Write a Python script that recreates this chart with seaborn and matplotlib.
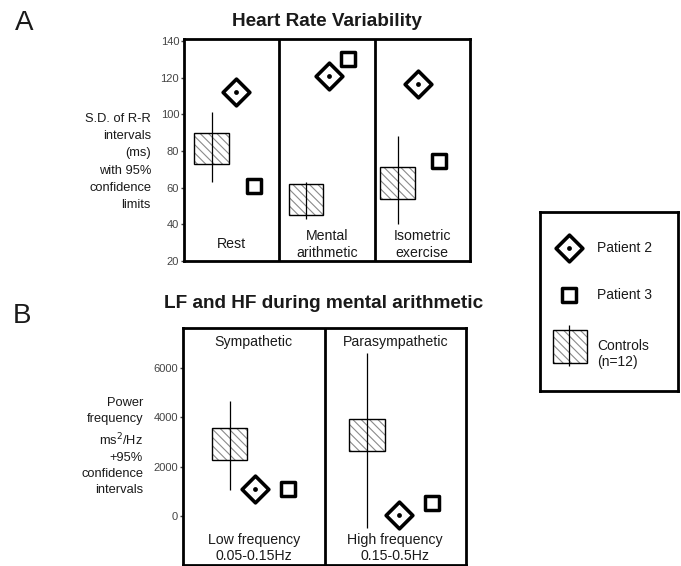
import numpy as np
import pandas as pd

import matplotlib
matplotlib.use("Agg")
import matplotlib.pyplot as plt
import matplotlib.transforms as mtransforms
import seaborn as sns

#####################################
### DATA
#####################################
# panel A - heart rate variability (S.D. of R-R intervals, ms)
hrv_conditions = ["Rest", "Mental\narithmetic", "Isometric\nexercise"]
hrv_ctrl_low = [73, 45, 54]
hrv_ctrl_high = [90, 62, 71]
hrv_ci_low = [63, 43, 40]
hrv_ci_high = [101, 63, 88]
hrv_patient2 = [112, 121, 116.5]
hrv_patient3 = [61, 130, 74.5]
hrv_ticks = [20, 40, 60, 80, 100, 120, 140]

# panel B - LF and HF power during mental arithmetic (ms2/Hz)
lfhf_bands = ["Sympathetic", "Parasympathetic"]
lfhf_freqs = ["Low frequency\n0.05-0.15Hz", "High frequency\n0.15-0.5Hz"]
lfhf_ctrl_low = [2270, 2635]
lfhf_ctrl_high = [3570, 3930]
lfhf_ci_low = [1050, -490]
lfhf_ci_high = [4660, 6600]
lfhf_patient2 = [1100, 40]
lfhf_patient3 = [1100, 530]
lfhf_ticks = [0, 2000, 4000, 6000]

legend_labels = ["Patient 2", "Patient 3", "Controls\n(n=12)"]

#####################################
### STYLE
#####################################
sns.set_style("white")
plt.rcParams["font.family"] = ["Liberation Sans", "DejaVu Sans"]
plt.rcParams["hatch.color"] = "#8a8a8a"
plt.rcParams["hatch.linewidth"] = 0.8

TXT = "#1a1a1a"
TICK = "#444444"
SPINE_LW = 2.0
HATCH = "\\\\\\\\"
D_SIZE, D_LW = 185, 2.6
S_SIZE, S_LW = 105, 2.5
DOT_SIZE = 12
LAB_FS = 10.2


def draw_panel(ax, ctrl_low, ctrl_high, ci_low, ci_high, p2, p3, offsets, box_w):
    n = len(ctrl_low)
    idx = np.arange(n)
    ctrl_x = idx + np.array([o[0] for o in offsets])
    p2_x = idx + np.array([o[1] for o in offsets])
    p3_x = idx + np.array([o[2] for o in offsets])
    lo = np.array(ctrl_low)
    hi = np.array(ctrl_high)

    # controls: hatched box + 95% CI line
    ax.bar(ctrl_x, hi - lo, bottom=lo, width=box_w, color="white",
           edgecolor="#8a8a8a", linewidth=0, hatch=HATCH, zorder=2)
    ax.bar(ctrl_x, hi - lo, bottom=lo, width=box_w, fill=False,
           edgecolor="black", linewidth=1.0, zorder=3)
    ax.vlines(ctrl_x, ci_low, ci_high, color="black", linewidth=0.9, zorder=4)

    pts = pd.DataFrame({"x": np.concatenate([p2_x, p3_x]),
                        "y": np.concatenate([p2, p3]),
                        "who": ["Patient 2"] * n + ["Patient 3"] * n})
    d2 = pts[pts["who"] == "Patient 2"]
    d3 = pts[pts["who"] == "Patient 3"]
    sns.scatterplot(data=d2, x="x", y="y", marker="D", s=D_SIZE, color="white",
                    edgecolor="black", linewidth=D_LW, ax=ax, zorder=5, legend=False)
    sns.scatterplot(data=d2, x="x", y="y", marker="o", s=DOT_SIZE, color="black",
                    edgecolor="black", linewidth=0, ax=ax, zorder=6, legend=False)
    sns.scatterplot(data=d3, x="x", y="y", marker="s", s=S_SIZE, color="white",
                    edgecolor="black", linewidth=S_LW, ax=ax, zorder=5, legend=False)

    for i in range(1, n):
        ax.axvline(i, color="black", linewidth=SPINE_LW, zorder=1)
    ax.set_xlim(0, n)
    ax.set_xticks([])
    ax.set_xlabel("")
    ax.set_ylabel("")
    for sp in ax.spines.values():
        sp.set_visible(True)
        sp.set_linewidth(SPINE_LW)
        sp.set_color("black")
    ax.tick_params(axis="y", left=True, length=2.5, width=1, pad=1,
                   labelsize=8, labelcolor=TICK, color=TICK)


#####################################
### PLOT BUILD
#####################################
fig = plt.figure(figsize=(6.81, 5.66), dpi=100)

# ---- panel A
axA = fig.add_axes([184 / 681, 1 - 261 / 566, 286 / 681, 222 / 566])
draw_panel(axA, hrv_ctrl_low, hrv_ctrl_high, hrv_ci_low, hrv_ci_high,
           hrv_patient2, hrv_patient3,
           offsets=[(0.29, 0.55, 0.73), (0.28, 0.52, 0.72), (0.24, 0.45, 0.67)],
           box_w=0.36)
axA.set_ylim(20, 141)
axA.set_yticks(hrv_ticks)
transA = mtransforms.blended_transform_factory(axA.transData, axA.transAxes)
for i, lab in enumerate(hrv_conditions):
    axA.text(i + 0.5, 0.075, lab, transform=transA, ha="center", va="center",
             fontsize=LAB_FS, color=TXT, linespacing=1.3)

# ---- panel B
axB = fig.add_axes([183 / 681, 1 / 566, 283 / 681, 237 / 566])
draw_panel(axB, lfhf_ctrl_low, lfhf_ctrl_high, lfhf_ci_low, lfhf_ci_high,
           lfhf_patient2, lfhf_patient3,
           offsets=[(0.33, 0.51, 0.74), (0.30, 0.53, 0.76)],
           box_w=0.25)
axB.set_ylim(-1990, 7620)
axB.set_yticks(lfhf_ticks)
transB = mtransforms.blended_transform_factory(axB.transData, axB.transAxes)
for i, lab in enumerate(lfhf_bands):
    axB.text(i + 0.5, 0.94, lab, transform=transB, ha="center", va="center",
             fontsize=LAB_FS, color=TXT)
for i, lab in enumerate(lfhf_freqs):
    axB.text(i + 0.5, 0.072, lab, transform=transB, ha="center", va="center",
             fontsize=LAB_FS, color=TXT, linespacing=1.2)

# ---- titles, panel letters, y labels
fig.text(24 / 681, 1 - 23 / 566, "A", fontsize=20, ha="center", va="center", color=TXT)
fig.text(22 / 681, 1 - 316 / 566, "B", fontsize=20, ha="center", va="center", color=TXT)
fig.text(327 / 681, 1 - 21 / 566, "Heart Rate Variability", fontsize=13.7,
         fontweight="bold", ha="center", va="center", color=TXT)
fig.text(324 / 681, 1 - 303 / 566, "LF and HF during mental arithmetic", fontsize=13.7,
         fontweight="bold", ha="center", va="center", color=TXT)
fig.text(151 / 681, 1 - 162 / 566,
         "S.D. of R-R\nintervals\n(ms)\nwith 95%\nconfidence\nlimits",
         fontsize=9.3, ha="right", va="center", multialignment="right",
         linespacing=1.58, color=TXT)
fig.text(143 / 681, 1 - 446.5 / 566,
         "Power\nfrequency\nms$^2$/Hz\n+95%\nconfidence\nintervals",
         fontsize=9.3, ha="right", va="center", multialignment="right",
         linespacing=1.45, color=TXT)

# ---- legend box
axL = fig.add_axes([540 / 681, 1 - 391 / 566, 138 / 681, 179 / 566])
axL.set_xlim(0, 1)
axL.set_ylim(0, 1)
axL.set_xticks([])
axL.set_yticks([])
for sp in axL.spines.values():
    sp.set_visible(True)
    sp.set_linewidth(SPINE_LW)
    sp.set_color("black")
axL.scatter([0.21], [0.80], marker="D", s=D_SIZE, color="white", edgecolor="black",
            linewidth=D_LW, zorder=5)
axL.scatter([0.21], [0.80], marker="o", s=DOT_SIZE, color="black", linewidth=0, zorder=6)
axL.scatter([0.21], [0.536], marker="s", s=S_SIZE, color="white", edgecolor="black",
            linewidth=S_LW, zorder=5)
axL.bar([0.217], [0.184], bottom=[0.156], width=0.246, color="white",
        edgecolor="#8a8a8a", linewidth=0, hatch=HATCH, zorder=2)
axL.bar([0.217], [0.184], bottom=[0.156], width=0.246, fill=False,
        edgecolor="black", linewidth=1.0, zorder=3)
axL.vlines([0.21], 0.14, 0.369, color="black", linewidth=0.9, zorder=4)
axL.text(0.413, 0.80, legend_labels[0], fontsize=10, va="center", color=TXT)
axL.text(0.413, 0.536, legend_labels[1], fontsize=10, va="center", color=TXT)
axL.text(0.413, 0.207, legend_labels[2], fontsize=10, va="center", color=TXT,
         linespacing=1.2)

fig.savefig("out.png", dpi=100)
plt.close(fig)
